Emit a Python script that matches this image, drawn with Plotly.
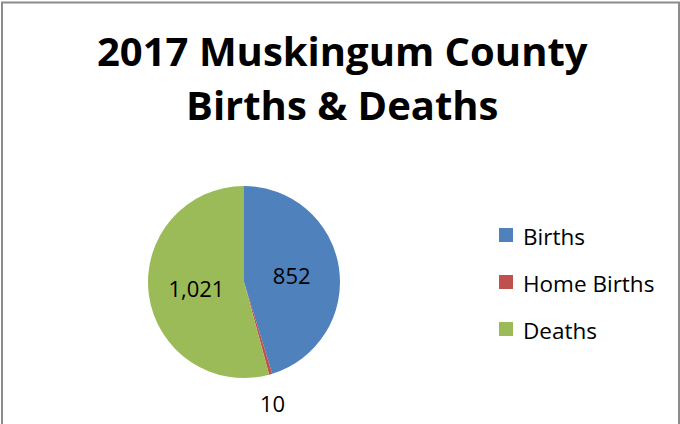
import plotly.graph_objects as go

labels = ["Births", "Home Births", "Deaths"]
values = [852, 10, 1021]
colors = ["#4F81BD", "#C0504D", "#9BBB59"]
label_positions = ["inside", "none", "inside"]
title_lines = ["2017 Muskingum County", "Births &amp; Deaths"]

W, H = 680, 424
FONT = "'Open Sans', Lato, sans-serif"

fig = go.Figure(
    go.Pie(
        labels=labels,
        values=values,
        sort=False,
        direction="clockwise",
        rotation=0,
        marker=dict(colors=colors, line=dict(color="white", width=0)),
        texttemplate="%{value:,}",
        textposition=label_positions,
        textfont=dict(family=FONT, size=22, color="black"),
        insidetextorientation="horizontal",
        domain=dict(x=[148 / W, 340 / W], y=[1 - 378 / H, 1 - 186 / H]),
        showlegend=False,
        hoverinfo="label+value",
    )
)

annotations = []
for i, line in enumerate(title_lines):
    annotations.append(
        dict(
            text="<b>" + line + "</b>",
            x=342 / W,
            y=1 - (50 + 55 * i) / H,
            xref="paper",
            yref="paper",
            xanchor="center",
            yanchor="middle",
            showarrow=False,
            font=dict(family=FONT, size=40, color="black"),
        )
    )

# data label of the thin "Home Births" slice, placed below the pie
annotations.append(
    dict(
        text=f"{values[1]:,}",
        x=272 / W,
        y=1 - 403 / H,
        xref="paper",
        yref="paper",
        xanchor="center",
        yanchor="middle",
        showarrow=False,
        font=dict(family=FONT, size=22, color="black"),
    )
)

shapes = [
    dict(
        type="rect",
        xref="paper",
        yref="paper",
        x0=2 / W,
        x1=679 / W,
        y0=-0.05,
        y1=1 - 2.5 / H,
        line=dict(color="#8C8C8C", width=2),
        fillcolor="rgba(0,0,0,0)",
    )
]

# legend (markers + labels)
for i, (lab, col) in enumerate(zip(labels, colors)):
    cy = 235 + 47 * i
    shapes.append(
        dict(
            type="rect",
            xref="paper",
            yref="paper",
            x0=499 / W,
            x1=513 / W,
            y0=1 - (cy + 7) / H,
            y1=1 - (cy - 7) / H,
            line=dict(width=0),
            fillcolor=col,
        )
    )
    annotations.append(
        dict(
            text=lab,
            x=521 / W,
            y=1 - (cy + 1) / H,
            xref="paper",
            yref="paper",
            xanchor="left",
            yanchor="middle",
            showarrow=False,
            font=dict(family=FONT, size=22.5, color="black"),
        )
    )

fig.update_layout(
    width=W,
    height=H,
    margin=dict(l=0, r=0, t=0, b=0),
    paper_bgcolor="white",
    plot_bgcolor="white",
    showlegend=False,
    annotations=annotations,
    shapes=shapes,
)

fig.write_html(
    "out.html",
    config={"displayModeBar": False},
    post_script="document.body.style.margin='0';document.body.style.overflow='hidden';",
)
